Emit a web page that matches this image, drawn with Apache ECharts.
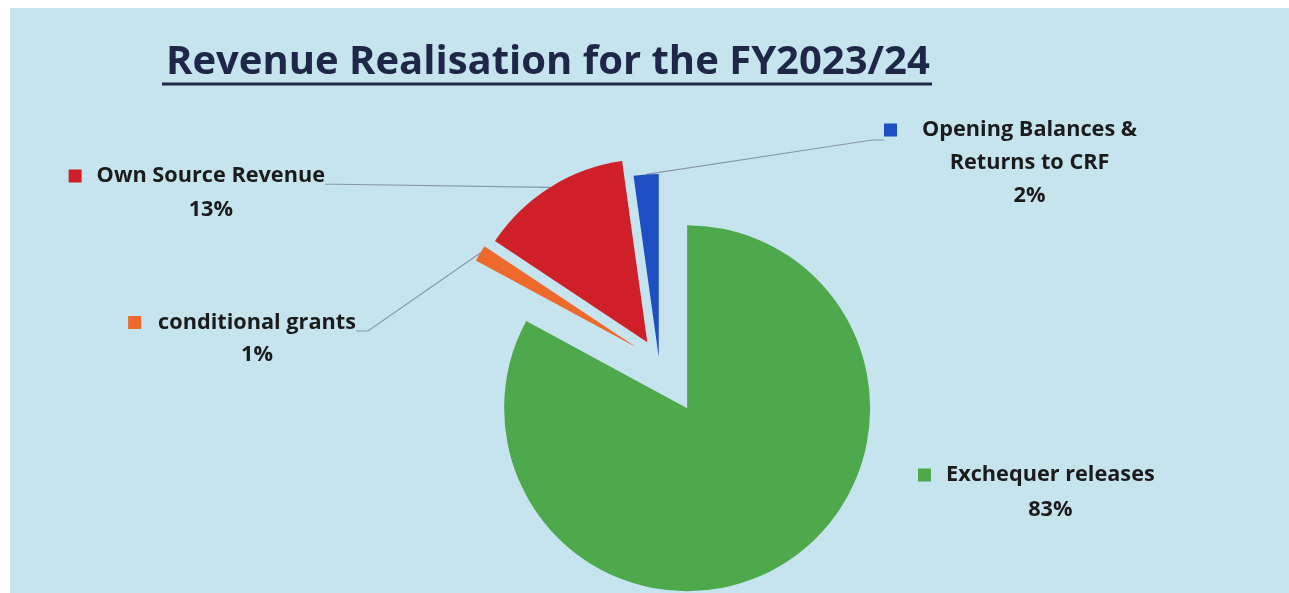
<!DOCTYPE html>
<html><head><meta charset="utf-8">
<script src="https://cdn.jsdelivr.net/npm/echarts@6/dist/echarts.min.js"></script>
<style>html,body{margin:0;padding:0;background:#fff;}#c{width:1289px;height:593px;}</style>
</head><body><div id="c"></div>
<script>
// ---- data ----
const categories = ['Exchequer releases', 'conditional grants', 'Own Source Revenue', 'Opening Balances &\nReturns to CRF'];
const values = [82.9, 1.45, 13.45, 2.2];
const colors = ['#4ea84c', '#ee6a2c', '#cf1f29', '#1d4fc2'];
const titleText = 'Revenue Realisation for the FY2023/24';

// ---- layout / style (not data) ----
const explode = [55, 26, 22, 4];
const labelCfg = [
  { x: 918, y: 475, align: 'left',  L: 35, top: 35, gap: 15, line: false },
  { x: 356, y: 329, align: 'right', L: 32, top: 19, gap: 17, line: true },
  { x: 325, y: 182, align: 'right', L: 34, top: 22, gap: 15, line: true },
  { x: 884, y: 123, align: 'left',  L: 33, top: 80, gap: 25, line: true }
];
const FONT = 'Open Sans';
const FS = 21.7;
const BASE_CENTER = [659, 361];
const R = 183;

// explode each slice along its own mid-angle by giving its series a shifted center
const total = values.reduce((a, b) => a + b, 0);
let cum = 0;
const centers = values.map((v, i) => {
  const th = 2 * Math.PI * (cum + v / 2) / total;
  cum += v;
  return [BASE_CENTER[0] + explode[i] * Math.sin(th), BASE_CENTER[1] - explode[i] * Math.cos(th)];
});

const chart = echarts.init(document.getElementById('c'), null, { renderer: 'canvas' });

const series = categories.map((cat, i) => {
  const cfg = labelCfg[i];
  const m = 13 + cfg.gap;
  return {
    type: 'pie',
    center: centers[i],
    radius: R,
    startAngle: 90,
    clockwise: true,
    avoidLabelOverlap: false,
    percentPrecision: 2,
    animation: false,
    silent: true,
    emphasis: { disabled: true },
    data: categories.map((c, j) => {
      const item = { name: c, value: values[j] };
      if (j === i) {
        item.itemStyle = { color: colors[j] };
      } else {
        item.itemStyle = { color: 'rgba(0,0,0,0)' };
        item.label = { show: false };
        item.labelLine = { show: false };
      }
      return item;
    }),
    label: {
      show: true,
      position: 'outside',
      formatter: (p) => {
        if (p.dataIndex !== i) return '';
        const lines = p.name.split('\n');
        let s = '{b| }\n{sq| }{g| }{t|' + lines[0] + '}';
        for (let k = 1; k < lines.length; k++) s += '\n{p|' + lines[k] + '}';
        s += '\n{p|' + Math.round(p.percent) + '%}';
        return s;
      },
      rich: {
        b: { fontSize: 1, lineHeight: cfg.top },
        sq: { width: 13, height: 13, backgroundColor: colors[i], lineHeight: cfg.L },
        g: { width: cfg.gap, lineHeight: cfg.L },
        t: { fontFamily: FONT, fontSize: FS, fontWeight: 'bold', color: '#1b1b1b', lineHeight: cfg.L },
        p: { fontFamily: FONT, fontSize: FS, fontWeight: 'bold', color: '#1b1b1b', lineHeight: cfg.L, align: 'center', padding: [0, 0, 0, m] }
      }
    },
    labelLine: {
      show: cfg.line,
      length: 10,
      length2: 12,
      smooth: false,
      lineStyle: { color: '#8797aa', width: 1.2 }
    },
    labelLayout: (params) => {
      if (params.dataIndex !== i) return {};
      return { x: cfg.x, y: cfg.y, align: cfg.align, verticalAlign: 'middle' };
    }
  };
});

chart.setOption({
  animation: false,
  backgroundColor: '#ffffff',
  title: {
    text: titleText,
    left: 161,
    top: 38,
    textStyle: { fontFamily: FONT, fontSize: 40, fontWeight: 'bold', color: '#1e2747' }
  },
  graphic: [
    { type: 'rect', z: -10, silent: true, shape: { x: 10, y: 8, width: 1279, height: 585 }, style: { fill: '#c6e4ee' } },
    { type: 'line', z: 10, silent: true, shape: { x1: 162, y1: 84, x2: 932, y2: 84 }, style: { stroke: '#1e2747', lineWidth: 3 } }
  ],
  series: series
});
</script>
</body></html>
